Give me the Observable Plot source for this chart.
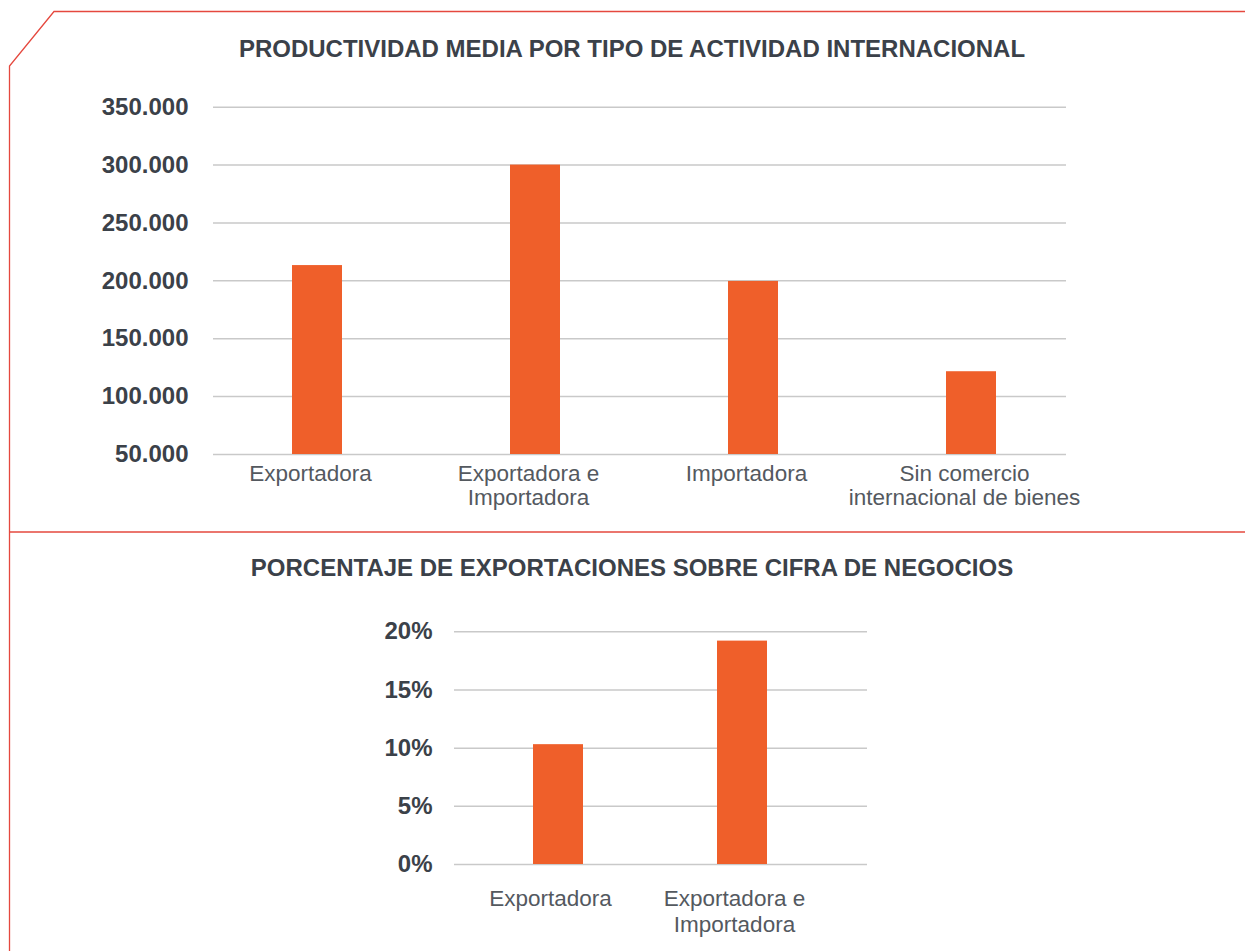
<!DOCTYPE html>
<html>
<head>
<meta charset="utf-8">
<script src="https://cdn.jsdelivr.net/npm/d3@7"></script>
<script src="https://cdn.jsdelivr.net/npm/@observablehq/plot@0.6"></script>
<style>
  html, body { margin: 0; padding: 0; background: #ffffff; overflow: hidden; }
  #page { position: relative; width: 1245px; height: 951px; font-family: "Liberation Sans", Arial, Helvetica, sans-serif; }
  .title { position: absolute; left: 19px; width: 1226px; text-align: center; font-size: 24px; line-height: 24px; font-weight: bold; color: #3b4149; white-space: nowrap; }
  .chart { position: absolute; left: 0; }
  #frame { position: absolute; left: 0; top: 0; pointer-events: none; }
</style>
</head>
<body>
<div id="page">
  <svg id="frame" width="1245" height="951">
    <path d="M1245,11.5 H54 L9.5,66 V951" fill="none" stroke="#e5483e" stroke-width="1.3"/>
    <path d="M9.5,532 H1245" fill="none" stroke="#e5483e" stroke-width="1.3"/>
  </svg>
  <div class="title" id="t1" style="top:36.6px">PRODUCTIVIDAD MEDIA POR TIPO DE ACTIVIDAD INTERNACIONAL</div>
  <div class="chart" id="c1" style="top:70px"></div>
  <div class="title" id="t2" style="top:555.8px">PORCENTAJE DE EXPORTACIONES SOBRE CIFRA DE NEGOCIOS</div>
  <div class="chart" id="c2" style="top:600px"></div>
</div>
<script>
// ---- Data: chart 1 ----
const categories1 = ["Exportadora", "Exportadora e Importadora", "Importadora", "Sin comercio internacional de bienes"];
const tickLabels1 = ["Exportadora", "Exportadora e\nImportadora", "Importadora", "Sin comercio\ninternacional de bienes"];
const productividad = [213200, 300000, 199500, 121500];
const yTicks1 = [50000, 100000, 150000, 200000, 250000, 300000, 350000];

// ---- Data: chart 2 ----
const categories2 = ["Exportadora", "Exportadora e Importadora"];
const tickLabels2 = ["Exportadora", "Exportadora e\nImportadora"];
const porcentaje = [10.3, 19.2];
const yTicks2 = [0, 5, 10, 15, 20];

const BAR = "#ef5f2a";
const GRID = "#c9c9c9";
const DARK = "#3b4149";
const LABEL = "#54595f";
const FONT = "Liberation Sans, Arial, Helvetica, sans-serif";

const esLocale = d3.formatLocale({decimal: ",", thousands: ".", grouping: [3], currency: ["", " €"]});
const fmtThousands = esLocale.format(",d");

const data1 = categories1.map((c, i) => ({cat: c, value: productividad[i], label: tickLabels1[i]}));
const data2 = categories2.map((c, i) => ({cat: c, value: porcentaje[i], label: tickLabels2[i]}));
const labelMap1 = new Map(data1.map(d => [d.cat, d.label]));
const labelMap2 = new Map(data2.map(d => [d.cat, d.label]));

const chart1 = Plot.plot({
  width: 1245,
  height: 460,
  marginTop: 36.7,
  marginBottom: 76,
  marginLeft: 213,
  marginRight: 179,
  style: {fontFamily: FONT, color: DARK, background: "transparent", overflow: "visible"},
  x: {type: "band", domain: categories1, range: [206.8, 1080.2], paddingInner: 0.771, paddingOuter: 0.3855, label: null},
  y: {domain: [yTicks1[0], yTicks1[yTicks1.length - 1]], label: null},
  marks: [
    Plot.gridY(yTicks1, {stroke: GRID, strokeOpacity: 1, strokeWidth: 1.5}),
    Plot.barY(data1, {x: "cat", y1: yTicks1[0], y2: "value", fill: BAR}),
    Plot.axisY(yTicks1, {tickSize: 0, tickPadding: 25, fontSize: 24, fontWeight: "bold", fill: DARK, tickFormat: fmtThousands}),
    Plot.axisX({tickSize: 0, tickPadding: 10, fontSize: 22.5, fill: LABEL, lineHeight: 1.05, dx: -7, tickFormat: d => labelMap1.get(d)})
  ]
});
document.getElementById("c1").appendChild(chart1);

const chart2 = Plot.plot({
  width: 1245,
  height: 351,
  marginTop: 31.3,
  marginBottom: 87,
  marginLeft: 454,
  marginRight: 378,
  style: {fontFamily: FONT, color: DARK, background: "transparent", overflow: "visible"},
  x: {type: "band", domain: categories2, range: [464.5, 834.5], paddingInner: 0.7297, paddingOuter: 0.36486, label: null},
  y: {domain: [yTicks2[0], yTicks2[yTicks2.length - 1]], label: null},
  marks: [
    Plot.gridY(yTicks2, {stroke: GRID, strokeOpacity: 1, strokeWidth: 1.5}),
    Plot.barY(data2, {x: "cat", y: "value", fill: BAR}),
    Plot.axisY(yTicks2, {tickSize: 0, tickPadding: 22, fontSize: 24, fontWeight: "bold", fill: DARK, tickFormat: d => d + "%"}),
    Plot.axisX({tickSize: 0, tickPadding: 24, fontSize: 22.5, fill: LABEL, lineHeight: 1.12, dx: -8, tickFormat: d => labelMap2.get(d)})
  ]
});
document.getElementById("c2").appendChild(chart2);
</script>
</body>
</html>
